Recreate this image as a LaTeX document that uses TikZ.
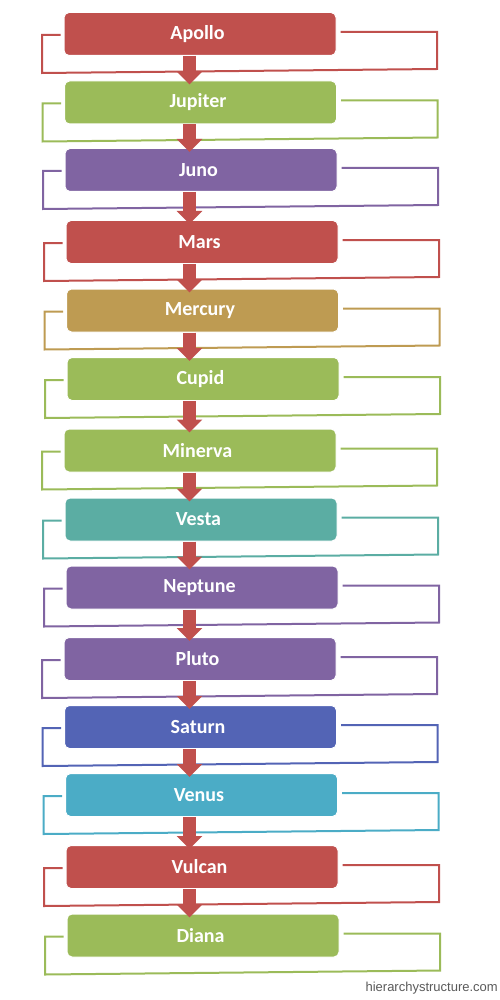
\documentclass[tikz,border=0pt]{standalone}
\usepackage{fontspec}
\setmainfont{Carlito}
\newfontfamily\wmfont{Liberation Sans}
\usetikzlibrary{arrows.meta,calc}
\pgfdeclarelayer{bg}
\pgfsetlayers{bg,main}
\definecolor{cred}{HTML}{C0504D}
\definecolor{cgreen}{HTML}{9BBB59}
\definecolor{cpurple}{HTML}{8064A2}
\definecolor{cgold}{HTML}{BE9B52}
\definecolor{cteal}{HTML}{5BADA3}
\definecolor{cblue}{HTML}{5364B5}
\definecolor{ccyan}{HTML}{4BACC6}
\definecolor{wmgray}{HTML}{5A5A5A}
\begin{document}
\begin{tikzpicture}[x=1pt,y=-1pt,
  box/.style={draw=white, line width=1pt, rounded corners=5pt, minimum width=272pt,
    minimum height=43pt, inner sep=0pt, text=white,
    font=\fontsize{20}{24}\selectfont\bfseries},
  loopline/.style={line width=2pt, line join=miter},
  flow/.style={draw=cred, line width=13pt, -{Triangle[width=25pt,length=13pt]}}]
\useasboundingbox (0,0) rectangle (500,1000);
\coordinate (ax) at (189.5,0);
\foreach \i/\cx/\cy/\col/\txt in {
  1/200/34/cred/Apollo,
  2/200.5/102.5/cgreen/Jupiter,
  3/201/170/cpurple/Juno,
  4/202/242/cred/Mars,
  5/202.5/310.5/cgold/Mercury,
  6/203/379/cgreen/Cupid,
  7/200/450.5/cgreen/Minerva,
  8/201/519.5/cteal/Vesta,
  9/202/587.5/cpurple/Neptune,
  10/200/659/cpurple/Pluto,
  11/200.5/727/cblue/Saturn,
  12/201.5/795/ccyan/Venus,
  13/202/867/cred/Vulcan,
  14/203/935.5/cgreen/Diana} {
  \node[box, fill=\col] (n\i) at (\cx,\cy) {\kern-5pt\txt};
  \begin{pgfonlayer}{bg}
    \draw[loopline, draw=\col] ($(n\i.west)+(-3,1)$) -- ($(n\i.center)+(-158,1)$)
      -- ($(n\i.center)+(-158,39)$) -- ($(n\i.center)+(237,35)$)
      -- ($(n\i.center)+(237,-2)$) -- ($(n\i.east)+(4,-2)$);
  \end{pgfonlayer}
}
\foreach \i in {1,...,13} {
  \pgfmathtruncatemacro{\j}{\i+1}
  \path (n\i.south -| ax) coordinate (s\i);
  \path (n\j.north -| ax) coordinate (t\j);
  \draw[flow] (s\i) -- ($(t\j)+(0,4)$);
}
\node[anchor=east, font=\wmfont\fontsize{13}{15}\selectfont, text=wmgray, inner sep=0pt]
  (wm) at (498,988) {hierarchystructure.com};
\end{tikzpicture}
\end{document}
